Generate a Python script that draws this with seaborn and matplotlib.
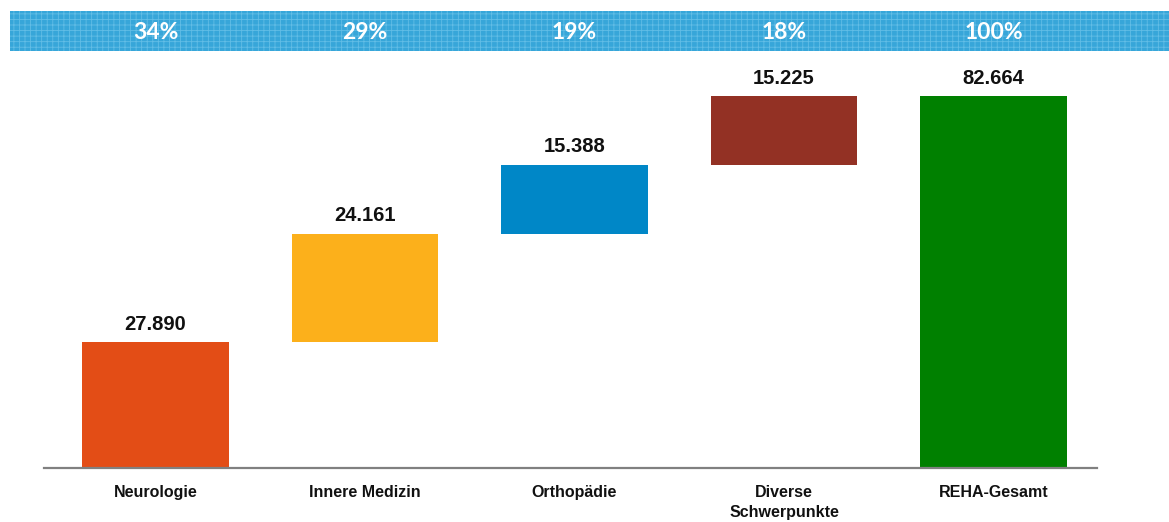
import numpy as np
import pandas as pd
import seaborn as sns
import matplotlib.pyplot as plt

# data
kategorien = ["Neurologie", "Innere Medizin", "Orthopädie", "Diverse\nSchwerpunkte", "REHA-Gesamt"]
werte = [27890, 24161, 15388, 15225, 82664]
anteile = ["34%", "29%", "19%", "18%", "100%"]
farben = ["#E34D16", "#FCB01B", "#0087C7", "#933124", "#008000"]

# waterfall bases: running sum, total starts at 0
basis = list(np.cumsum([0] + werte[:3])) + [0]

df = pd.DataFrame({"kategorie": kategorien, "wert": werte})

sns.set_theme(style="white")
plt.rcParams["font.family"] = ["Liberation Sans", "DejaVu Sans"]

fig = plt.figure(figsize=(11.69, 5.22), dpi=100)
ax = fig.add_axes([44 / 1169, 54 / 522, 1053 / 1169, 417 / 522])

sns.barplot(data=df, x="kategorie", y="wert", color=farben[0], saturation=1,
            width=0.7, bottom=basis, linewidth=0, ax=ax)
for patch, c in zip(ax.patches, farben):
    patch.set_facecolor(c)

ax.set_xlim(-0.532, 4.494)
ax.set_ylim(0, 92664)
ax.set_xlabel("")
ax.set_ylabel("")
ax.set_yticks([])
for s in ["top", "left", "right"]:
    ax.spines[s].set_visible(False)
ax.spines["bottom"].set_color("#808080")
ax.spines["bottom"].set_linewidth(1.6)
ax.tick_params(axis="x", length=0, pad=12)
for lbl in ax.get_xticklabels():
    lbl.set_fontweight("bold")
    lbl.set_fontsize(11.5)
    lbl.set_color("#111111")
    lbl.set_verticalalignment("top")
    lbl.set_linespacing(1.45)

for i, (b, v) in enumerate(zip(basis, werte)):
    txt = f"{v:,}".replace(",", ".")
    ax.annotate(txt, (i, b + v), xytext=(0, 6), textcoords="offset points",
                ha="center", va="bottom", fontsize=14.5, fontweight="bold", color="#111111")

# top banner with the shares
bx = fig.add_axes([10 / 1169, 471 / 522, 1159 / 1169, 40 / 522])
bx.set_xlim((10 - 155.5) / 209.5, (1169 - 155.5) / 209.5)
bx.set_ylim(0, 1)
bx.axis("off")
plt.rcParams["hatch.linewidth"] = 0.6
bx.add_patch(plt.Rectangle((-5, 0), 20, 1, facecolor="#37A6D9", edgecolor="#62BDE6",
                           hatch="+++", linewidth=0))
for i, p in enumerate(anteile):
    bx.text(i, 0.46, p, ha="center", va="center", fontsize=16.5, fontweight="bold",
            color="white", family=["Lato", "DejaVu Sans"])

fig.savefig("out.png", dpi=100)
